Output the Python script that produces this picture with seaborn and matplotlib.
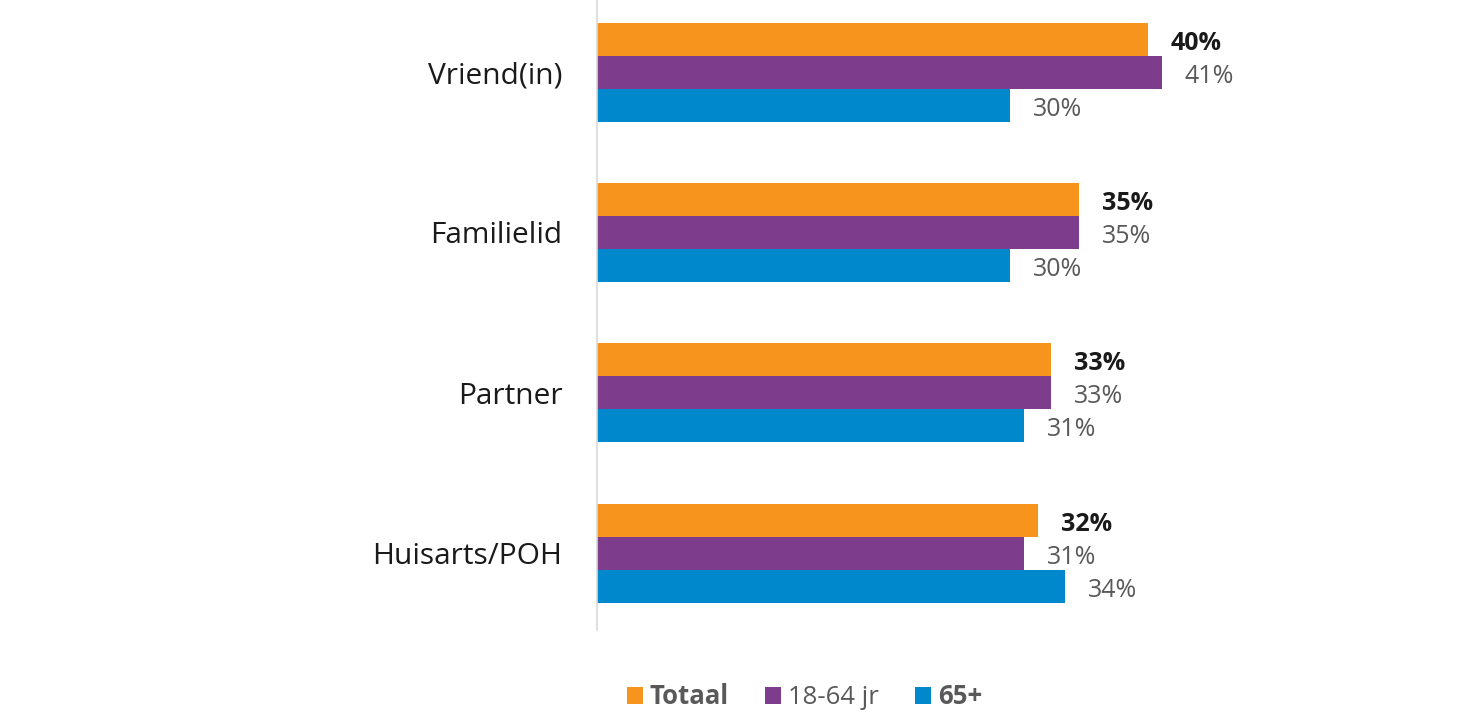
import matplotlib
matplotlib.use("Agg")
import matplotlib.pyplot as plt
from matplotlib.patches import Patch
import pandas as pd
import seaborn as sns

# data
categories = ["Vriend(in)", "Familielid", "Partner", "Huisarts/POH"]
groups = ["Totaal", "18-64 jr", "65+"]
totaal = [40, 35, 33, 32]
leeftijd_18_64 = [41, 35, 33, 31]
leeftijd_65 = [30, 30, 31, 34]

colors = ["#F7941D", "#7D3C8C", "#0088CC"]

rows = []
for series, vals in zip(groups, [totaal, leeftijd_18_64, leeftijd_65]):
    for cat, v in zip(categories, vals):
        rows.append({"categorie": cat, "groep": series, "waarde": v})
df = pd.DataFrame(rows)

sns.set_style("white")
plt.rcParams["font.family"] = ["Open Sans", "DejaVu Sans"]

fig = plt.figure(figsize=(14.84, 7.23), dpi=100)
ax = fig.add_axes([597 / 1484, 93 / 723, (1460 - 597) / 1484, 630 / 723])

sns.barplot(data=df, y="categorie", x="waarde", hue="groep", order=categories,
            hue_order=groups, palette=colors, orient="h", width=0.617,
            saturation=1, linewidth=0, legend=False, ax=ax)

# value labels
for i, container in enumerate(ax.containers):
    for bar in container:
        w = bar.get_width()
        ax.annotate(f"{w:.0f}%", (w, bar.get_y() + bar.get_height() / 2),
                    xytext=(16.5, -3), textcoords="offset points", va="center", ha="left",
                    fontsize=18, color="#1a1a1a" if i == 0 else "#595959",
                    fontweight="bold" if i == 0 else "normal")

ax.set_xlim(0, (1460 - 597) / 13.77)
ax.set_ylim(3.48, -0.45)
ax.set_xlabel("")
ax.set_ylabel("")
ax.set_xticks([])
ax.tick_params(axis="y", length=0, pad=25, labelsize=21.5, labelcolor="#1a1a1a")
for s in ["top", "right", "bottom"]:
    ax.spines[s].set_visible(False)
ax.spines["left"].set_color("#d9d9d9")
ax.spines["left"].set_linewidth(1.2)

handles = [Patch(facecolor=c, edgecolor="none") for c in colors]
leg = fig.legend(handles, groups, loc="center", bbox_to_anchor=(0.542, 0.036), ncol=3,
                 frameon=False, fontsize=18.5, handlelength=0.65, handleheight=0.65,
                 handletextpad=0.25, columnspacing=1.4)
for t, bold in zip(leg.get_texts(), [True, False, True]):
    t.set_color("#595959")
    if bold:
        t.set_fontweight("bold")

fig.savefig("out.png", dpi=100)
